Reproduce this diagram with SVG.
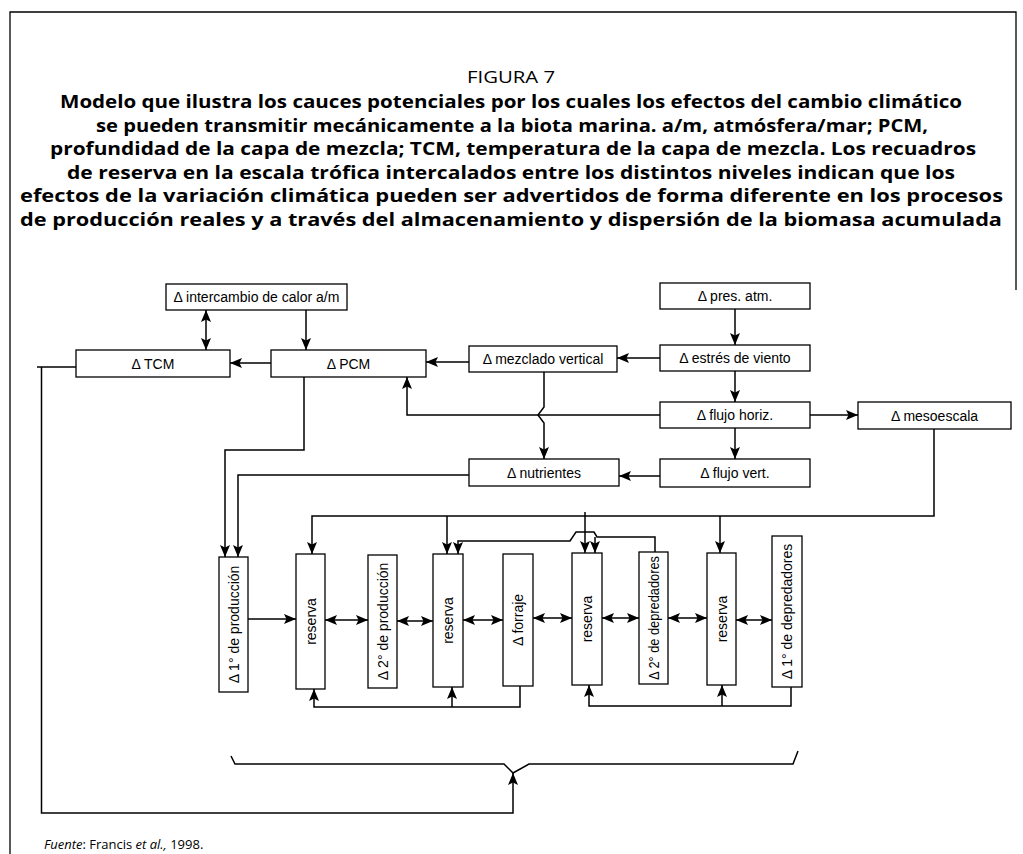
<svg xmlns="http://www.w3.org/2000/svg" width="1023" height="854" viewBox="0 0 1023 854">
<style>
.box{fill:#fff;stroke:#000;stroke-width:1.3}
.lbl{font-family:"Liberation Sans",Arial,sans-serif;font-size:14px;text-anchor:middle;dominant-baseline:central;fill:#000}
.ln{fill:none;stroke:#000;stroke-width:1.5}
.ar{marker-end:url(#ah)}
.dar{marker-start:url(#ah);marker-end:url(#ah)}
.ttl{font-family:"Open Sans","Noto Sans",sans-serif;font-size:18px;font-weight:bold;text-anchor:middle;fill:#000}
.fig{font-family:"Open Sans","Noto Sans",sans-serif;font-size:16px;text-anchor:middle;fill:#000}
.src{font-family:"Open Sans","Noto Sans",sans-serif;font-size:13px;fill:#000}
</style>
<defs>
<marker id="ah" markerUnits="userSpaceOnUse" markerWidth="12" markerHeight="10" refX="12" refY="5" orient="auto-start-reverse" viewBox="0 0 12 10">
<path d="M0,0 L12,5 L0,10 L2.5,5 z" fill="#000"/>
</marker>
</defs>
<rect width="1023" height="854" fill="#fff"/>
<path d="M10,854 V12 H1016 V290" fill="none" stroke="#000" stroke-width="1.3"/>
<g id="title">
<text class="fig" x="511" y="83" textLength="88" lengthAdjust="spacingAndGlyphs">FIGURA 7</text>
<text class="ttl" x="511" y="108" textLength="902" lengthAdjust="spacingAndGlyphs">Modelo que ilustra los cauces potenciales por los cuales los efectos del cambio climático</text>
<text class="ttl" x="512" y="131.6" textLength="832" lengthAdjust="spacingAndGlyphs">se pueden transmitir mecánicamente a la biota marina. a/m, atmósfera/mar; PCM,</text>
<text class="ttl" x="513" y="155.2" textLength="926" lengthAdjust="spacingAndGlyphs">profundidad de la capa de mezcla; TCM, temperatura de la capa de mezcla. Los recuadros</text>
<text class="ttl" x="511" y="178.8" textLength="888" lengthAdjust="spacingAndGlyphs">de reserva en la escala trófica intercalados entre los distintos niveles indican que los</text>
<text class="ttl" x="511.5" y="202.4" textLength="983" lengthAdjust="spacingAndGlyphs">efectos de la variación climática pueden ser advertidos de forma diferente en los procesos</text>
<text class="ttl" x="511" y="226" textLength="982" lengthAdjust="spacingAndGlyphs">de producción reales y a través del almacenamiento y dispersión de la biomasa acumulada</text>
</g>
<g id="connectors">
<path class="ln dar" d="M206,310 V350"/>
<path class="ln ar" d="M306,310 V350"/>
<path class="ln ar" d="M271,363 H230"/>
<path class="ln ar" d="M469,362 H426"/>
<path class="ln ar" d="M660,358 H617"/>
<path class="ln ar" d="M735,309 V345"/>
<path class="ln ar" d="M735,371 V402"/>
<path class="ln ar" d="M660,415 H407 V377"/>
<path class="ln ar" d="M810,415 H858"/>
<path class="ln ar" d="M735,428 V459"/>
<path class="ln ar" d="M660,476 H619"/>
<path class="ln ar" d="M544,372 V407 L538,415 L544,423 V459"/>
<path class="ln ar" d="M304,377 V450 H225 V557"/>
<path class="ln ar" d="M469,475 H238 V557"/>
<path class="ln" d="M76,367 H37"/>
<path class="ln ar" d="M41.5,367 V813 H513 V773"/>
<path class="ln" d="M231,756 L235,764 H504 L513,773 L529,764 H793 L798,751"/>
<path class="ln ar" d="M934,429 V516 H312 V554"/>
<path class="ln ar" d="M447,516 V554"/>
<path class="ln ar" d="M585,512 V553"/>
<path class="ln ar" d="M720,516 V553"/>
<path class="ln ar" d="M655,552 V537 H597 L594,532 H576 L570,541 H458 V554"/>
<path class="ln ar" d="M595,537 V553"/>
<path class="ln ar" d="M248,619 H296"/>
<path class="ln dar" d="M325,620 H368"/>
<path class="ln dar" d="M397,621 H433"/>
<path class="ln dar" d="M463,620 H503"/>
<path class="ln dar" d="M533,618 H572"/>
<path class="ln dar" d="M602,618 H639"/>
<path class="ln dar" d="M668,618 H707"/>
<path class="ln dar" d="M736,620 H772"/>
<path class="ln ar" d="M520,686 V707 H314 V689"/>
<path class="ln ar" d="M452,707 V687"/>
<path class="ln ar" d="M791,687 V706 H589 V685"/>
<path class="ln ar" d="M722,706 V685"/>
</g>
<g id="n-intercambio"><rect class="box" x="166" y="284" width="181" height="26"/><text class="lbl" x="256.5" y="297">Δ intercambio de calor a/m</text></g>
<g id="n-pres"><rect class="box" x="660" y="283" width="150" height="26"/><text class="lbl" x="735" y="296">Δ pres. atm.</text></g>
<g id="n-tcm"><rect class="box" x="76" y="350" width="154" height="27"/><text class="lbl" x="153" y="363.5">Δ TCM</text></g>
<g id="n-pcm"><rect class="box" x="271" y="350" width="155" height="27"/><text class="lbl" x="348.5" y="363.5">Δ PCM</text></g>
<g id="n-mezclado"><rect class="box" x="469" y="346" width="148" height="26"/><text class="lbl" x="543" y="359">Δ mezclado vertical</text></g>
<g id="n-estres"><rect class="box" x="660" y="345" width="150" height="26"/><text class="lbl" x="735" y="358">Δ estrés de viento</text></g>
<g id="n-flujoh"><rect class="box" x="660" y="402" width="150" height="26"/><text class="lbl" x="735" y="415">Δ flujo horiz.</text></g>
<g id="n-meso"><rect class="box" x="858" y="402" width="153" height="27"/><text class="lbl" x="934.5" y="415.5">Δ mesoescala</text></g>
<g id="n-nutrientes"><rect class="box" x="469" y="459" width="150" height="27"/><text class="lbl" x="544" y="472.5">Δ nutrientes</text></g>
<g id="n-flujov"><rect class="box" x="660" y="459" width="150" height="28"/><text class="lbl" x="735" y="473">Δ flujo vert.</text></g>
<g id="n-prod1"><rect class="box" x="219" y="557" width="29" height="135"/><text class="lbl" transform="translate(233.5,624.5) rotate(-90)">Δ 1° de producción</text></g>
<g id="n-res1"><rect class="box" x="296" y="554" width="29" height="135"/><text class="lbl" transform="translate(310.5,621.5) rotate(-90)">reserva</text></g>
<g id="n-prod2"><rect class="box" x="368" y="555" width="29" height="133"/><text class="lbl" transform="translate(382.5,621.5) rotate(-90)">Δ 2° de producción</text></g>
<g id="n-res2"><rect class="box" x="433" y="554" width="30" height="133"/><text class="lbl" transform="translate(448,620.5) rotate(-90)">reserva</text></g>
<g id="n-forraje"><rect class="box" x="503" y="554" width="30" height="132"/><text class="lbl" transform="translate(518,620) rotate(-90)">Δ forraje</text></g>
<g id="n-res3"><rect class="box" x="572" y="553" width="30" height="132"/><text class="lbl" transform="translate(587,619) rotate(-90)">reserva</text></g>
<g id="n-dep2"><rect class="box" x="639" y="552" width="29" height="132"/><text class="lbl" transform="translate(653.5,618) rotate(-90)" textLength="124" lengthAdjust="spacingAndGlyphs">Δ 2° de depredadores</text></g>
<g id="n-res4"><rect class="box" x="707" y="553" width="29" height="132"/><text class="lbl" transform="translate(721.5,619) rotate(-90)">reserva</text></g>
<g id="n-dep1"><rect class="box" x="772" y="536" width="30" height="151"/><text class="lbl" transform="translate(787,611.5) rotate(-90)">Δ 1° de depredadores</text></g>
<text class="src" x="44" y="849"><tspan font-style="italic">Fuente</tspan>: Francis <tspan font-style="italic">et al.,</tspan> 1998.</text>
</svg>
